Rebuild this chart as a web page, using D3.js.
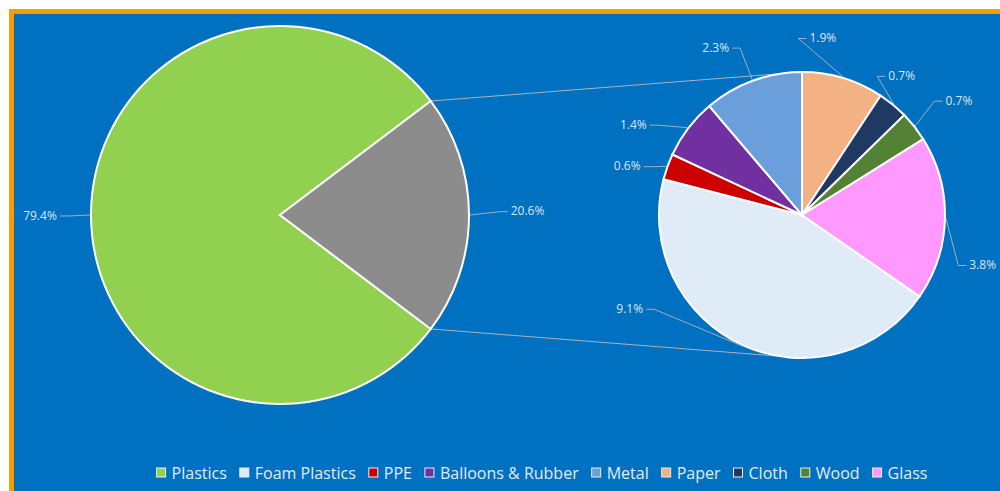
<!DOCTYPE html>
<html>

<head>
  <title>Pie of Pie</title>

  <style>
    body,
    html {
      margin: 0;
      padding: 0;
      background: #fff;
    }

    #svg {
      display: block;
    }
  </style>
</head>

<body>

  <svg id="svg" width="1000" height="491"></svg>

  <script src="https://d3js.org/d3.v7.min.js"></script>
  <script>
    // main pie
    const mainNames = ["Plastics", "Other"]
    const mainValues = [79.4, 20.6]
    const mainLabels = ["79.4%", "20.6%"]

    // secondary pie (split of "Other"), in legend order
    const subNames = ["Foam Plastics", "PPE", "Balloons & Rubber", "Metal", "Paper", "Cloth", "Wood", "Glass"]
    const subValues = [9.1, 0.6, 1.4, 2.3, 1.9, 0.7, 0.7, 3.8]
    const subLabels = ["9.1%", "0.6%", "1.4%", "2.3%", "1.9%", "0.7%", "0.7%", "3.8%"]

    const legendNames = ["Plastics", "Foam Plastics", "PPE", "Balloons & Rubber", "Metal", "Paper", "Cloth", "Wood", "Glass"]

    const colors = {
      "Plastics": "#92d050",
      "Other": "#8c8c8c",
      "Foam Plastics": "#dfebf7",
      "PPE": "#cc0000",
      "Balloons & Rubber": "#7030a0",
      "Metal": "#6a9fdc",
      "Paper": "#f4b183",
      "Cloth": "#203864",
      "Wood": "#548235",
      "Glass": "#ff99ff"
    }

    // label placement: [radius factor, angle shift in degrees]
    const mainLabelPos = [[1.27, 0], [1.31, -1]]
    const subLabelPos = [[1.37, 37], [1.27, -4], [1.34, -9], [1.32, -7], [1.25, -10], [1.2, -4], [1.36, 2], [1.31, 14]]

    const width = 1000
    const height = 491
    const rad = Math.PI / 180

    const svg = d3.select("#svg")

    // frame
    svg.append("rect")
      .attr("x", 9).attr("y", 9)
      .attr("width", width).attr("height", height)
      .attr("fill", "#fb9b00")
    svg.append("rect")
      .attr("x", 14).attr("y", 14)
      .attr("width", width).attr("height", height)
      .attr("fill", "#0070c0")

    const labelColor = "#dde6f0"
    const leaderColor = "#9fb0c0"

    // ---- main pie
    const mc = [280, 215]
    const mr = 189
    const otherShare = mainValues[1] / d3.sum(mainValues)
    const mainPie = d3.pie().sort(null)
      .startAngle(Math.PI / 2 + otherShare * Math.PI)
      .endAngle(Math.PI / 2 + otherShare * Math.PI + 2 * Math.PI)
    const mainArcs = mainPie(mainValues)
    const mainArc = d3.arc().innerRadius(0).outerRadius(mr)

    // ---- secondary pie
    const sc = [802, 215]
    const sr = 143
    const subTotal = d3.sum(subValues)
    // Paper (index 4) starts at 12 o'clock
    const subStart = -d3.sum(subValues.slice(0, 4)) / subTotal * 2 * Math.PI
    const subPie = d3.pie().sort(null)
      .startAngle(subStart)
      .endAngle(subStart + 2 * Math.PI)
    const subArcs = subPie(subValues)
    const subArc = d3.arc().innerRadius(0).outerRadius(sr)

    // connector lines between the pies
    const otherArc = mainArcs[1]
    const polar = (c, r, a) => [c[0] + r * Math.sin(a), c[1] - r * Math.cos(a)]
    const conn = svg.append("g")
    ;[[otherArc.startAngle, 0], [otherArc.endAngle, Math.PI]].forEach(([a, b]) => {
      const p1 = polar(mc, mr, a)
      const p2 = polar(sc, sr, b)
      conn.append("line")
        .attr("x1", p1[0]).attr("y1", p1[1])
        .attr("x2", p2[0]).attr("y2", p2[1])
        .attr("stroke", "#a8b4c0")
        .attr("stroke-width", 1)
    })

    svg.append("g")
      .attr("transform", `translate(${mc[0]}, ${mc[1]})`)
      .selectAll("path")
      .data(mainArcs)
      .enter()
      .append("path")
      .attr("d", mainArc)
      .attr("fill", (d, i) => colors[mainNames[i]])
      .attr("stroke", "#fff")
      .attr("stroke-width", 2)

    svg.append("g")
      .attr("transform", `translate(${sc[0]}, ${sc[1]})`)
      .selectAll("path")
      .data(subArcs)
      .enter()
      .append("path")
      .attr("d", subArc)
      .attr("fill", (d, i) => colors[subNames[i]])
      .attr("stroke", "#fff")
      .attr("stroke-width", 2)

    // data labels with leader lines
    function drawLabels(arcs, labels, pos, c, r) {
      const g = svg.append("g")
      arcs.forEach((d, i) => {
        const mid = (d.startAngle + d.endAngle) / 2
        const la = mid + pos[i][1] * rad
        const lp = polar(c, r * pos[i][0], la)
        const right = lp[0] > c[0]
        const t = g.append("text")
          .attr("x", lp[0]).attr("y", lp[1])
          .attr("text-anchor", "middle")
          .attr("dominant-baseline", "central")
          .attr("font-family", "Open Sans, sans-serif")
          .attr("font-size", 12)
          .attr("fill", labelColor)
          .text(labels[i])
        const w = t.node().getComputedTextLength()
        const end = [right ? lp[0] - w / 2 - 3 : lp[0] + w / 2 + 3, lp[1] + 1]
        const elbow = [right ? end[0] - 8 : end[0] + 8, end[1]]
        const start = polar(c, r + 1, mid)
        g.append("path")
          .attr("d", d3.line()([start, elbow, end]))
          .attr("fill", "none")
          .attr("stroke", leaderColor)
          .attr("stroke-width", 1)
      })
    }

    drawLabels(mainArcs, mainLabels, mainLabelPos, mc, mr)
    drawLabels(subArcs, subLabels, subLabelPos, sc, sr)

    // legend
    const legend = svg.append("g")
    const fontSize = 16
    const itemGap = 13
    let x = 0
    legendNames.forEach(name => {
      const g = legend.append("g")
      g.append("rect")
        .attr("x", 0).attr("y", -5)
        .attr("width", 9).attr("height", 9)
        .attr("fill", colors[name])
        .attr("stroke", "#e8eef5")
        .attr("stroke-width", 1)
      const t = g.append("text")
        .attr("x", 15).attr("y", 0)
        .attr("dominant-baseline", "central")
        .attr("font-family", "Open Sans, sans-serif")
        .attr("font-size", fontSize)
        .attr("fill", "#e4ecf4")
        .text(name)
      const w = 15 + t.node().getComputedTextLength()
      g.attr("transform", `translate(${x}, 0)`)
      x += w + itemGap
    })
    const legendWidth = x - itemGap
    legend.attr("transform", `translate(${542 - legendWidth / 2}, 473)`)
  </script>
</body>

</html>
